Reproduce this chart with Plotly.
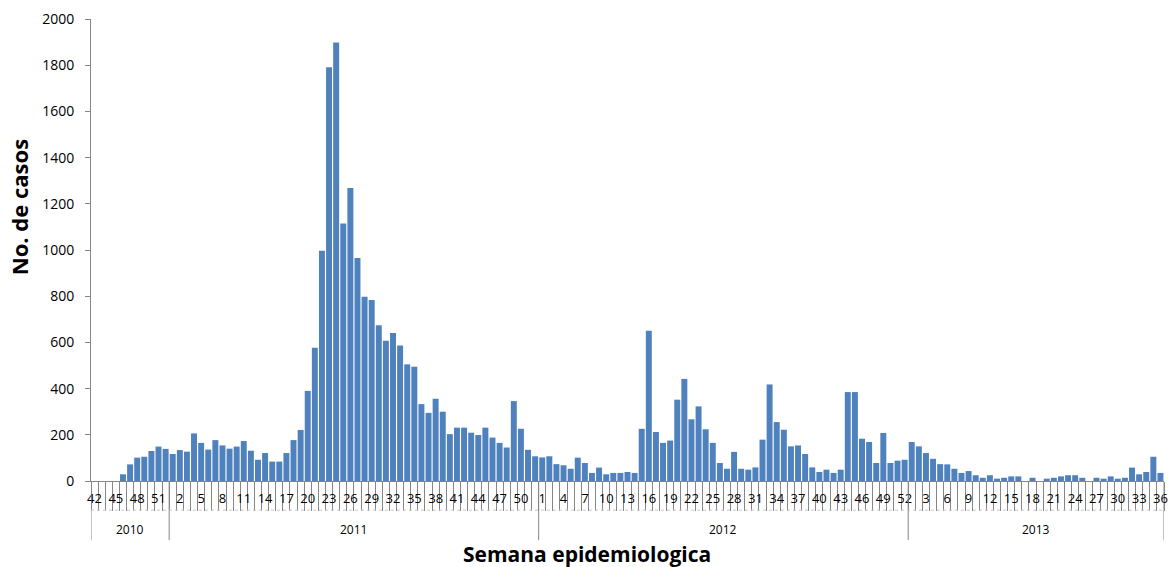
import plotly.graph_objects as go

# ---- data ----
weeks_2010 = list(range(42, 53))
cases_2010 = [0, 0, 0, 0, 29, 72, 101, 105, 130, 149, 139]

weeks_2011 = list(range(1, 53))
cases_2011 = [117, 134, 127, 206, 165, 136, 177, 154, 140, 149,
              173, 131, 92, 121, 84, 84, 121, 177, 221, 390,
              577, 997, 1791, 1898, 1115, 1268, 965, 798, 784, 674,
              607, 641, 587, 505, 495, 333, 295, 356, 300, 203,
              231, 231, 209, 199, 231, 188, 165, 145, 346, 226,
              135, 107]

weeks_2012 = list(range(1, 53))
cases_2012 = [102, 107, 73, 68, 53, 101, 78, 35, 58, 29,
              35, 35, 39, 35, 226, 650, 212, 165, 175, 352,
              442, 267, 323, 224, 165, 78, 53, 126, 53, 49,
              59, 179, 418, 255, 222, 150, 154, 117, 59, 39,
              49, 35, 49, 385, 385, 183, 169, 78, 208, 78,
              88, 92]

weeks_2013 = list(range(1, 37))
cases_2013 = [169, 150, 121, 96, 73, 72, 53, 35, 43, 25,
              14, 25, 10, 14, 20, 20, 0, 14, 0, 10,
              14, 20, 25, 25, 14, 0, 14, 10, 20, 10,
              14, 58, 29, 39, 105, 35]

years = ["2010", "2011", "2012", "2013"]
y_ticks = list(range(0, 2001, 200))

# ---- assemble ----
all_weeks = weeks_2010 + weeks_2011 + weeks_2012 + weeks_2013
all_cases = cases_2010 + cases_2011 + cases_2012 + cases_2013
year_lengths = [len(weeks_2010), len(weeks_2011), len(weeks_2012), len(weeks_2013)]
idx = list(range(len(all_weeks)))
n = len(idx)

FONT = "Open Sans"
GRAY = "#868686"

fig = go.Figure()
fig.add_trace(go.Bar(
    x=idx, y=all_cases,
    marker=dict(color="#4F81BD", line=dict(width=0)),
    hoverinfo="skip",
))

tickvals = idx[::3]
ticktext = [str(all_weeks[i]) for i in tickvals]

shapes = []
annotations = []
start = 0
bounds = [-0.5]
for yr, ln in zip(years, year_lengths):
    end = start + ln
    bounds.append(end - 0.5)
    annotations.append(dict(
        x=(start + end - 1) / 2, xref="x", y=-0.106, yref="paper",
        text=yr, showarrow=False, font=dict(family=FONT, size=12, color="#000"),
        xanchor="center", yanchor="middle"))
    start = end
for b in bounds:
    shapes.append(dict(type="line", xref="x", yref="paper", x0=b, x1=b,
                       y0=0, y1=-0.128, line=dict(color=GRAY, width=1)))
shapes.append(dict(type="line", xref="x", yref="paper", x0=-0.5, x1=n - 0.5,
                   y0=-0.063, y1=-0.063, line=dict(color="#c8c8c8", width=1, dash="dot")))

annotations.append(dict(
    x=0.462, xref="paper", y=-0.157, yref="paper", text="<b>Semana epidemiologica</b>",
    showarrow=False, font=dict(family=FONT, size=21, color="#000"),
    xanchor="center", yanchor="middle"))
annotations.append(dict(
    x=-0.067, xref="paper", y=0.593, yref="paper", text="<b>No. de casos</b>",
    textangle=-90, showarrow=False, font=dict(family=FONT, size=22, color="#000"),
    xanchor="center", yanchor="middle"))

fig.update_layout(
    width=1169, height=567,
    margin=dict(l=91, r=5, t=19, b=86, autoexpand=False),
    paper_bgcolor="white", plot_bgcolor="white",
    bargap=0.16,
    showlegend=False,
    shapes=shapes,
    annotations=annotations,
    xaxis=dict(
        range=[-0.5, n - 0.5],
        tickmode="array", tickvals=tickvals, ticktext=ticktext,
        ticks="outside", ticklen=5, tickcolor="rgba(0,0,0,0)",
        tickfont=dict(family=FONT, size=13, color="#000"),
        showline=True, linecolor=GRAY, linewidth=1,
        showgrid=False, zeroline=False, tickangle=0,
        minor=dict(tickmode="linear", tick0=-0.5, dtick=1, ticks="outside",
                   ticklen=29, tickcolor=GRAY, tickwidth=1, showgrid=False),
    ),
    yaxis=dict(
        range=[0, 2000], tickmode="array", tickvals=y_ticks,
        ticks="outside", ticklen=5, tickcolor=GRAY,
        ticklabelstandoff=8,
        tickfont=dict(family=FONT, size=14, color="#000"),
        showline=True, linecolor=GRAY, linewidth=1,
        showgrid=False, zeroline=False,
    ),
)

fig.write_html("out.html", config={"displayModeBar": False},
               post_script="document.body.style.margin='0';document.body.style.overflow='hidden';")
